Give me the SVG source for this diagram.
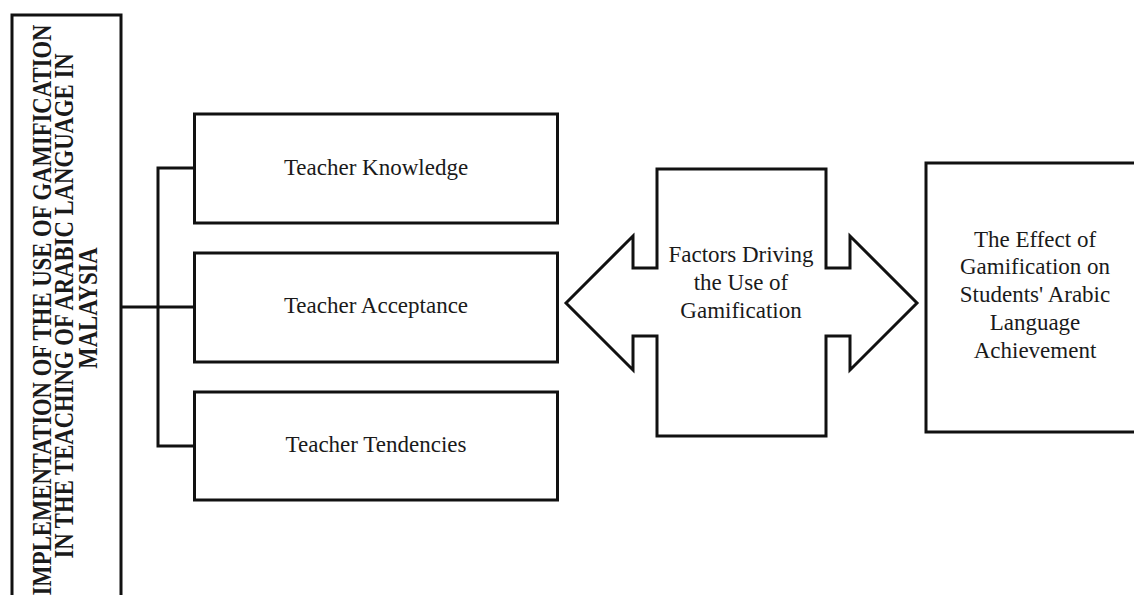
<svg xmlns="http://www.w3.org/2000/svg" width="1134" height="595" viewBox="0 0 1134 595">
<style>
.box{fill:#fff;stroke:#111;stroke-width:3}
.ln{fill:none;stroke:#111;stroke-width:3}
.t{font-family:"Liberation Serif","Times New Roman",serif;font-size:23px;fill:#1a1a1a;text-anchor:middle}
.tb{font-family:"Liberation Serif","Times New Roman",serif;font-size:22.7px;font-weight:bold;fill:#1a1a1a;text-anchor:middle}
</style>
<rect width="1134" height="595" fill="#fff"/>
<g id="connectors">
<polyline class="ln" points="122,307 194,307"/>
<polyline class="ln" points="194,168 158,168 158,446 194,446"/>
</g>
<g id="main">
<rect class="box" x="12" y="15" width="109" height="600"/>
<text class="tb" transform="translate(51,310) rotate(-90) scale(1,1.23)">IMPLEMENTATION OF THE USE OF GAMIFICATION</text>
<text class="tb" transform="translate(73,306) rotate(-90) scale(1,1.23)">IN THE TEACHING OF ARABIC LANGUAGE IN</text>
<text class="tb" transform="translate(97,308) rotate(-90) scale(1,1.23)">MALAYSIA</text>
</g>
<g id="knowledge">
<rect class="box" x="194.5" y="114" width="363" height="109"/>
<text class="t" x="376" y="175">Teacher Knowledge</text>
</g>
<g id="acceptance">
<rect class="box" x="194.5" y="253" width="363" height="109"/>
<text class="t" x="376" y="313">Teacher Acceptance</text>
</g>
<g id="tendencies">
<rect class="box" x="194.5" y="392" width="363" height="108"/>
<text class="t" x="376" y="452">Teacher Tendencies</text>
</g>
<g id="factors">
<polygon class="box" points="566,303 633,236 633,268 657,268 657,169 826,169 826,268 850,268 850,236 917,303 850,370 850,336 826,336 826,436 657,436 657,336 633,336 633,370"/>
<text class="t" x="741" y="262">Factors Driving</text>
<text class="t" x="741" y="290">the Use of</text>
<text class="t" x="741" y="318">Gamification</text>
</g>
<g id="effect">
<rect class="box" x="926" y="163" width="220" height="269"/>
<text class="t" x="1035" y="247">The Effect of</text>
<text class="t" x="1035" y="274">Gamification on</text>
<text class="t" x="1035" y="302">Students' Arabic</text>
<text class="t" x="1035" y="330">Language</text>
<text class="t" x="1035" y="358">Achievement</text>
</g>
</svg>
